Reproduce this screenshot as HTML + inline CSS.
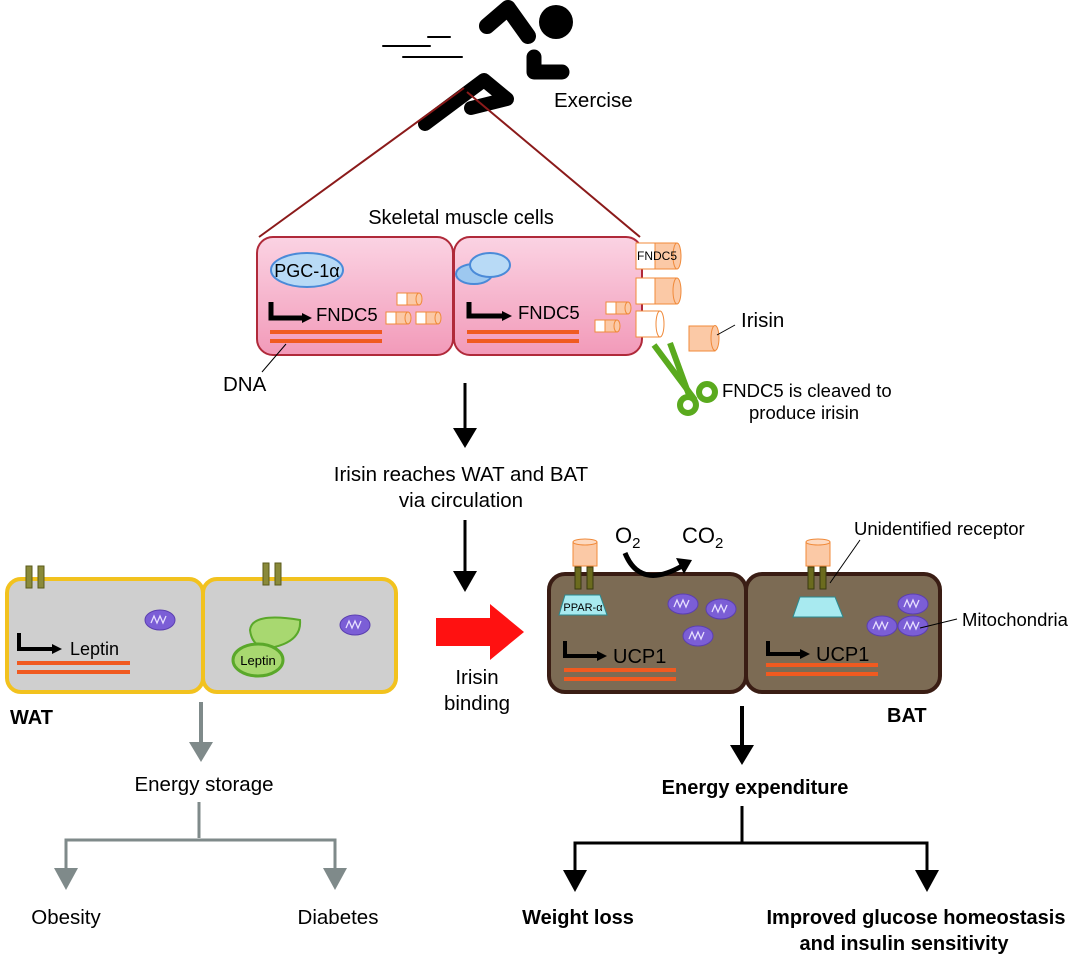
<!DOCTYPE html>
<html><head><meta charset="utf-8"><style>
html,body{margin:0;padding:0;background:#fff;}
svg{display:block;font-family:"Liberation Sans",Arial,sans-serif;}
</style></head><body>
<svg width="1071" height="957" viewBox="0 0 1071 957" xmlns="http://www.w3.org/2000/svg">
<defs>
<linearGradient id="pk" x1="0" y1="0" x2="0" y2="1"><stop offset="0" stop-color="#fbd3e3"/><stop offset="1" stop-color="#f29ab9"/></linearGradient>
<marker id="ab" markerWidth="10" markerHeight="10" refX="5" refY="5" orient="auto" markerUnits="userSpaceOnUse"><path d="M0,0 L10,5 L0,10z" fill="#000"/></marker>
<g id="mito"><ellipse cx="0" cy="0" rx="15" ry="10" fill="#7b5ed6" stroke="#5b3fb0"/><path d="M-9,3 l3,-7 l3,7 l3,-7 l3,7 l3,-7" stroke="#e8e0ff" fill="none" stroke-width="1.3"/></g>
<g id="cyl"><rect x="0" y="0" width="14" height="12" fill="#fff" stroke="#f08a3a"/><rect x="10" y="0" width="12" height="12" fill="#fbc9a6" stroke="#f08a3a"/><ellipse cx="22" cy="6" rx="3" ry="6" fill="#fbc9a6" stroke="#f08a3a"/></g>
</defs>

<!-- runner -->
<g stroke="#000" fill="none" stroke-linecap="round" stroke-linejoin="round">
<line x1="383" y1="46" x2="430" y2="46" stroke-width="2"/>
<line x1="428" y1="37" x2="450" y2="37" stroke-width="2"/>
<line x1="403" y1="57" x2="462" y2="57" stroke-width="2"/>
<polyline points="487,26 508,8 528,36" stroke-width="16"/>
<polyline points="534,57 534,72 562,72" stroke-width="15"/>
<polyline points="425,124 484,80 507,99 471,108" stroke-width="14"/>
</g>
<circle cx="556" cy="22" r="17" fill="#000"/>
<text x="554" y="107" font-size="20.5">Exercise</text>
<line x1="464" y1="88" x2="259" y2="237" stroke="#8b1a1a" stroke-width="2"/>
<line x1="467" y1="92" x2="640" y2="237" stroke="#8b1a1a" stroke-width="2"/>

<text x="461" y="224" font-size="20" text-anchor="middle">Skeletal muscle cells</text>
<rect x="257" y="237" width="196" height="118" rx="16" fill="url(#pk)" stroke="#b02a3a" stroke-width="2"/>
<rect x="454" y="237" width="188" height="118" rx="16" fill="url(#pk)" stroke="#b02a3a" stroke-width="2"/>
<ellipse cx="307" cy="270" rx="36" ry="17" fill="#b8daf6" stroke="#4a8ad8" stroke-width="2"/>
<text x="307" y="277" font-size="18" text-anchor="middle">PGC-1α</text>
<ellipse cx="474" cy="274" rx="18" ry="10" fill="#9dc8f0" stroke="#4a8ad8" stroke-width="2"/>
<ellipse cx="490" cy="265" rx="20" ry="12" fill="#b8daf6" stroke="#4a8ad8" stroke-width="2"/>
<polyline points="271,302 271,318 307,318" stroke="#000" stroke-width="5" fill="none" marker-end="url(#ab)"/>
<text x="316" y="321" font-size="18.5">FNDC5</text>
<polyline points="469,302 469,316 507,316" stroke="#000" stroke-width="5" fill="none" marker-end="url(#ab)"/>
<text x="518" y="319" font-size="18.5">FNDC5</text>
<g stroke="#f05a20" stroke-width="4"><line x1="270" y1="332" x2="382" y2="332"/><line x1="270" y1="341" x2="382" y2="341"/><line x1="467" y1="332" x2="579" y2="332"/><line x1="467" y1="341" x2="579" y2="341"/></g>
<use href="#cyl" x="397" y="293"/><use href="#cyl" x="386" y="312"/><use href="#cyl" x="416" y="312"/>
<use href="#cyl" x="606" y="302"/><use href="#cyl" x="595" y="320"/>
<rect x="636" y="243" width="22" height="26" fill="#fff" stroke="#f08a3a"/><rect x="655" y="243" width="22" height="26" fill="#fbc9a6" stroke="#f08a3a"/><ellipse cx="677" cy="256" rx="4" ry="13" fill="#fbc9a6" stroke="#f08a3a"/>
<text x="657" y="260" font-size="12" text-anchor="middle">FNDC5</text>
<rect x="636" y="278" width="22" height="26" fill="#fff" stroke="#f08a3a"/><rect x="655" y="278" width="22" height="26" fill="#fbc9a6" stroke="#f08a3a"/><ellipse cx="677" cy="291" rx="4" ry="13" fill="#fbc9a6" stroke="#f08a3a"/>
<rect x="636" y="311" width="24" height="26" fill="#fff" stroke="#f08a3a"/><ellipse cx="660" cy="324" rx="4" ry="13" fill="#fff" stroke="#f08a3a"/>
<rect x="689" y="326" width="26" height="25" fill="#fbc9a6" stroke="#f08a3a"/><ellipse cx="715" cy="338" rx="4" ry="12.5" fill="#fbc9a6" stroke="#f08a3a"/>
<line x1="717" y1="335" x2="735" y2="325" stroke="#000"/>
<text x="741" y="327" font-size="20.5">Irisin</text>
<line x1="286" y1="344" x2="262" y2="372" stroke="#000"/>
<text x="223" y="391" font-size="20.5">DNA</text>
<!-- scissors -->
<g stroke="#5aaa1e" stroke-width="6" fill="none"><line x1="654" y1="345" x2="695" y2="400"/><line x1="670" y1="343" x2="689" y2="395"/><circle cx="688" cy="405" r="8"/><circle cx="707" cy="392" r="8"/></g>
<text x="722" y="397" font-size="18.5">FNDC5 is cleaved to</text>
<text x="749" y="419" font-size="18.5">produce irisin</text>

<line x1="465" y1="383" x2="465" y2="430" stroke="#000" stroke-width="3"/><path d="M453,428 L477,428 L465,448z" fill="#000"/>
<text x="461" y="481" font-size="20.5" text-anchor="middle">Irisin reaches WAT and BAT</text>
<text x="461" y="507" font-size="20.5" text-anchor="middle">via circulation</text>
<line x1="465" y1="520" x2="465" y2="575" stroke="#000" stroke-width="3"/><path d="M453,571 L477,571 L465,592z" fill="#000"/>

<!-- WAT -->
<rect x="7" y="579" width="196" height="113" rx="14" fill="#cfcfcf" stroke="#f2c21e" stroke-width="4"/>
<rect x="203" y="579" width="193" height="113" rx="14" fill="#cfcfcf" stroke="#f2c21e" stroke-width="4"/>
<g fill="#8a8a3a" stroke="#5a5a1a"><rect x="26" y="566" width="6" height="22"/><rect x="38" y="566" width="6" height="22"/><rect x="263" y="563" width="6" height="22"/><rect x="275" y="563" width="6" height="22"/></g>
<use href="#mito" x="160" y="620"/><use href="#mito" x="355" y="625"/>
<polyline points="19,633 19,649 57,649" stroke="#000" stroke-width="4" fill="none" marker-end="url(#ab)"/>
<text x="70" y="655" font-size="18">Leptin</text>
<g stroke="#f05a20" stroke-width="4"><line x1="17" y1="663" x2="130" y2="663"/><line x1="17" y1="672" x2="130" y2="672"/></g>
<path d="M250,630 Q252,612 300,620 Q302,642 270,648 Q252,648 250,630z" fill="#a8d870" stroke="#5aa82a" stroke-width="2"/>
<ellipse cx="258" cy="660" rx="25" ry="16" fill="#a8d870" stroke="#5aa82a" stroke-width="3"/>
<text x="258" y="665" font-size="13" text-anchor="middle">Leptin</text>
<text x="10" y="724" font-size="20" font-weight="bold">WAT</text>

<path d="M436,618 L490,618 L490,604 L524,632 L490,660 L490,646 L436,646z" fill="#f11"/>
<text x="477" y="684" font-size="20.5" text-anchor="middle">Irisin</text>
<text x="477" y="710" font-size="20.5" text-anchor="middle">binding</text>

<!-- BAT -->
<rect x="549" y="574" width="197" height="118" rx="16" fill="#7c6b54" stroke="#3a1d14" stroke-width="4"/>
<rect x="746" y="574" width="194" height="118" rx="16" fill="#7c6b54" stroke="#3a1d14" stroke-width="4"/>
<g fill="#6b6b1e" stroke="#3a3a10"><rect x="575" y="567" width="6" height="22"/><rect x="587" y="567" width="6" height="22"/><rect x="808" y="567" width="6" height="22"/><rect x="820" y="567" width="6" height="22"/></g>
<rect x="573" y="542" width="24" height="24" fill="#fbc9a6" stroke="#f08a3a"/><ellipse cx="585" cy="542" rx="12" ry="3" fill="#fdd9c0" stroke="#f08a3a"/>
<rect x="806" y="542" width="24" height="24" fill="#fbc9a6" stroke="#f08a3a"/><ellipse cx="818" cy="542" rx="12" ry="3" fill="#fdd9c0" stroke="#f08a3a"/>
<path d="M565,595 L600,595 L607,615 L559,615z" fill="#a8eaf0" stroke="#2a8a90"/>
<text x="583" y="611" font-size="11" text-anchor="middle">PPAR-α</text>
<path d="M800,597 L835,597 L843,617 L793,617z" fill="#a8eaf0" stroke="#2a8a90"/>
<path d="M625,553 Q640,590 682,566" stroke="#000" stroke-width="5" fill="none"/><path d="M676,558 L692,560 L684,574z" fill="#000"/>
<text x="615" y="543" font-size="22">O<tspan font-size="15" dy="5">2</tspan></text>
<text x="682" y="543" font-size="22">CO<tspan font-size="15" dy="5">2</tspan></text>
<line x1="830" y1="583" x2="860" y2="540" stroke="#000"/>
<text x="854" y="535" font-size="18.5">Unidentified receptor</text>
<use href="#mito" x="683" y="604"/><use href="#mito" x="721" y="609"/><use href="#mito" x="698" y="636"/>
<use href="#mito" x="913" y="604"/><use href="#mito" x="882" y="626"/><use href="#mito" x="913" y="626"/>
<line x1="920" y1="628" x2="957" y2="619" stroke="#000"/>
<text x="962" y="626" font-size="18.5">Mitochondria</text>
<polyline points="565,641 565,656 602,656" stroke="#000" stroke-width="4" fill="none" marker-end="url(#ab)"/>
<text x="613" y="663" font-size="20">UCP1</text>
<polyline points="768,641 768,654 805,654" stroke="#000" stroke-width="4" fill="none" marker-end="url(#ab)"/>
<text x="816" y="661" font-size="20">UCP1</text>
<g stroke="#f05a20" stroke-width="4"><line x1="564" y1="670" x2="676" y2="670"/><line x1="564" y1="679" x2="676" y2="679"/><line x1="766" y1="665" x2="878" y2="665"/><line x1="766" y1="674" x2="878" y2="674"/></g>
<text x="887" y="722" font-size="20" font-weight="bold">BAT</text>

<!-- WAT outcomes -->
<line x1="201" y1="702" x2="201" y2="745" stroke="#7f8a8a" stroke-width="4"/><path d="M189,742 L213,742 L201,762z" fill="#7f8a8a"/>
<text x="204" y="791" font-size="20.5" text-anchor="middle">Energy storage</text>
<g stroke="#7f8a8a" stroke-width="3" fill="none"><line x1="199" y1="802" x2="199" y2="838"/><polyline points="66,872 66,840 335,840 335,872"/></g>
<path d="M54,868 L78,868 L66,890z" fill="#7f8a8a"/><path d="M323,868 L347,868 L335,890z" fill="#7f8a8a"/>
<text x="66" y="924" font-size="20.5" text-anchor="middle">Obesity</text>
<text x="338" y="924" font-size="20.5" text-anchor="middle">Diabetes</text>

<!-- BAT outcomes -->
<line x1="742" y1="706" x2="742" y2="748" stroke="#000" stroke-width="4"/><path d="M730,745 L754,745 L742,765z" fill="#000"/>
<text x="755" y="794" font-size="20" font-weight="bold" text-anchor="middle">Energy expenditure</text>
<g stroke="#000" stroke-width="3" fill="none"><line x1="742" y1="806" x2="742" y2="842"/><polyline points="575,873 575,843 927,843 927,873"/></g>
<path d="M563,870 L587,870 L575,892z" fill="#000"/><path d="M915,870 L939,870 L927,892z" fill="#000"/>
<text x="578" y="924" font-size="20" font-weight="bold" text-anchor="middle">Weight loss</text>
<text x="916" y="924" font-size="20" font-weight="bold" text-anchor="middle">Improved glucose homeostasis</text>
<text x="904" y="950" font-size="20" font-weight="bold" text-anchor="middle">and insulin sensitivity</text>
</svg>
</body></html>
